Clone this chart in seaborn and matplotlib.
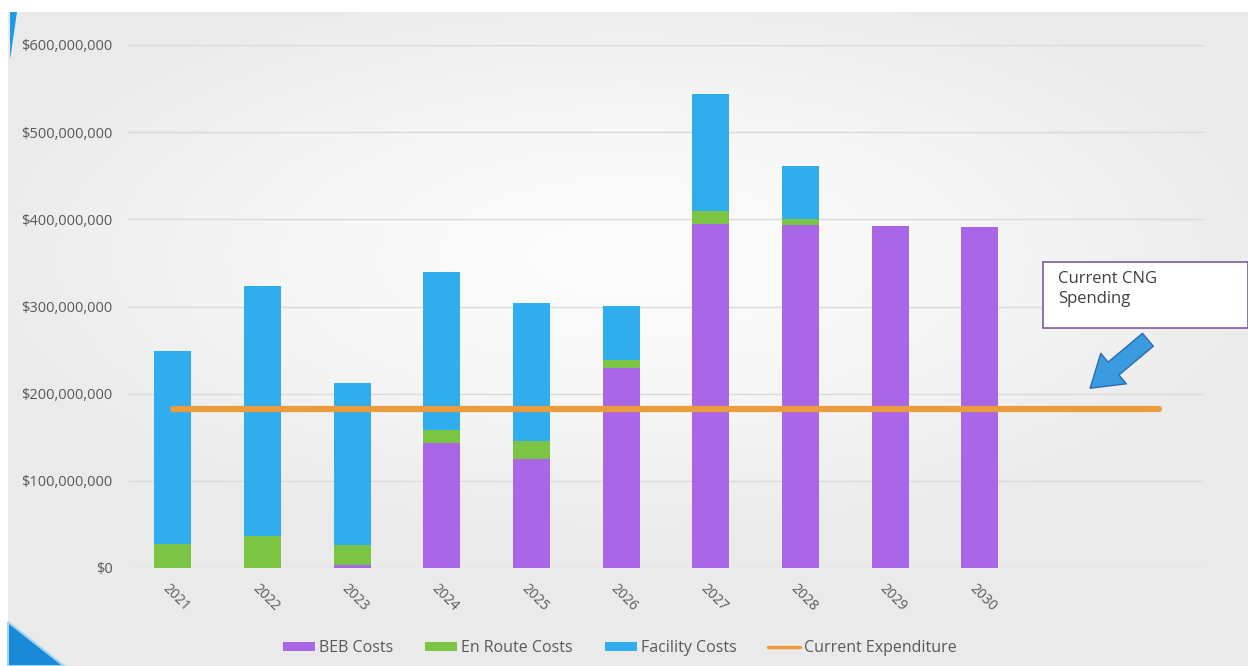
import numpy as np
import pandas as pd
import seaborn as sns
import matplotlib.pyplot as plt
import matplotlib.transforms as mtransforms
from matplotlib.patches import Polygon, Rectangle, FancyArrowPatch
from matplotlib.ticker import FuncFormatter

# chart data ($)
years = ['2021', '2022', '2023', '2024', '2025', '2026', '2027', '2028', '2029', '2030', '2031', '2032']
tick_labels = ['2021', '2022', '2023', '2024', '2025', '2026', '2027', '2028', '2029', '2030', '', '']
beb_costs = [0, 0, 3e6, 143e6, 125e6, 229e6, 395e6, 394e6, 392e6, 391e6]
en_route_costs = [28e6, 37e6, 23e6, 15e6, 21e6, 10e6, 14e6, 6e6, 0, 0]
facility_costs = [221e6, 287e6, 186e6, 182e6, 158e6, 62e6, 135e6, 61e6, 0, 0]
current_expenditure = [182e6, 182e6, 182e6, 182e6, 182e6, 182e6, 182e6, 182e6, 182e6, 182e6, 182e6, 182e6]

bars = pd.DataFrame({
    'year': years[:len(beb_costs)],
    'beb': beb_costs,
    'en_route': en_route_costs,
    'facility': facility_costs,
})
bars['bottom_en_route'] = bars['beb']
bars['bottom_facility'] = bars['beb'] + bars['en_route']

purple = '#a966e6'
green = '#7cc544'
blue = '#2fadef'
orange = '#eb9c3c'
text_col = '#595959'

sns.set_theme(style='white')
plt.rcParams['font.family'] = ['Open Sans', 'DejaVu Sans']

fig = plt.figure(figsize=(12.48, 6.66), dpi=100)
fig.patch.set_facecolor('white')
W, H = 1248, 666

def px(x, y):
    return (x / W, 1 - y / H)

# slide background: soft light centre, greyer edges
bg = fig.add_axes([8 / W, 0, (W - 8) / W, (H - 12) / H], zorder=-20)
gy, gx = np.mgrid[-1:1:200j, -1:1:300j]
shade = np.clip(np.sqrt((gx * 0.9) ** 2 + ((gy + 0.25) * 1.1) ** 2), 0, 1)
bg.imshow(shade, cmap=sns.blend_palette(['#fdfdfd', '#f6f6f6', '#eaeaea'], as_cmap=True),
          aspect='auto', vmin=0, vmax=1, extent=[0, 1, 0, 1])
bg.set_axis_off()

fig.patches.append(Polygon([px(8, 622), px(64, 666), px(8, 666)], closed=True, transform=fig.transFigure,
                           facecolor='#1a8ad8', edgecolor='#9fd3f5', lw=1.5, zorder=5))
fig.patches.append(Polygon([px(10, 12), px(17, 12), px(10, 60)], closed=True, transform=fig.transFigure,
                           facecolor='#1f9be6', edgecolor='none', zorder=5))

ax = fig.add_axes([128 / W, 1 - 568 / H, (1204 - 128) / W, (568 - 45) / H])
ax.set_facecolor('none')

sns.barplot(data=bars, x='year', y='beb', order=years, color=purple, width=0.41, linewidth=0,
            saturation=1, ax=ax, label='BEB Costs', zorder=3)
sns.barplot(data=bars, x='year', y='en_route', order=years, bottom=bars['bottom_en_route'], color=green,
            width=0.41, linewidth=0, saturation=1, ax=ax, label='En Route Costs', zorder=3)
sns.barplot(data=bars, x='year', y='facility', order=years, bottom=bars['bottom_facility'], color=blue,
            width=0.41, linewidth=0, saturation=1, ax=ax, label='Facility Costs', zorder=3)
sns.lineplot(x=np.arange(len(years)), y=current_expenditure, color=orange, lw=4.5, ax=ax,
             label='Current Expenditure', zorder=4, solid_capstyle='round')

ax.set_xlim(-0.5, len(years) - 0.5)
ax.set_ylim(0, 600e6)
ax.set_yticks(np.arange(0, 600e6 + 1, 100e6))
ax.yaxis.set_major_formatter(FuncFormatter(lambda v, p: '${:,.0f}'.format(v)))
ax.grid(axis='y', color='#dadada', lw=1, zorder=0)
ax.grid(axis='x', visible=False)
sns.despine(ax=ax, left=True, bottom=True)
ax.set_xlabel('')
ax.set_ylabel('')
ax.set_xticks(range(len(years)))
ax.set_xticklabels(tick_labels, rotation=-45, ha='left', va='center', rotation_mode='anchor')
ax.tick_params(axis='x', length=0, pad=13, labelsize=10, labelcolor=text_col)
ax.tick_params(axis='y', length=0, pad=11, labelsize=10.5, labelcolor=text_col)
shift = mtransforms.ScaledTranslation(-8 / 100, 0, fig.dpi_scale_trans)
for lab in ax.get_xticklabels():
    lab.set_transform(lab.get_transform() + shift)

handles, labels = ax.get_legend_handles_labels()
ax.get_legend().remove()
order = [labels.index(n) for n in ['BEB Costs', 'En Route Costs', 'Facility Costs', 'Current Expenditure']]
leg = fig.legend([handles[i] for i in order], [labels[i] for i in order], loc='center',
                 bbox_to_anchor=(620 / W, 1 - 648 / H), ncol=4, frameon=False,
                 fontsize=11.5, labelcolor=text_col, handlelength=2.0, handleheight=0.5, columnspacing=2.0,
                 handletextpad=0.25)
leg.get_lines()[0].set_linewidth(2.5)

# call-out box and arrow
fig.patches.append(Rectangle(px(1043, 328), (W - 1043) / W, 66 / H, transform=fig.transFigure,
                             facecolor='white', edgecolor='#7a5c9c', lw=1.2, zorder=5))
fig.text(1058 / W, 1 - 271 / H, 'Current CNG\nSpending', ha='left', va='top', fontsize=12,
         color='#404040', linespacing=1.3, zorder=6)
fig.patches.append(FancyArrowPatch(px(1150, 338), px(1088, 390), transform=fig.transFigure,
                                   arrowstyle='simple,head_length=1.0,head_width=1.3,tail_width=0.55',
                                   mutation_scale=22, facecolor='#3a9be0', edgecolor='#2a6cae', lw=1, zorder=6))

fig.savefig('out.png', dpi=100, facecolor=fig.get_facecolor())
